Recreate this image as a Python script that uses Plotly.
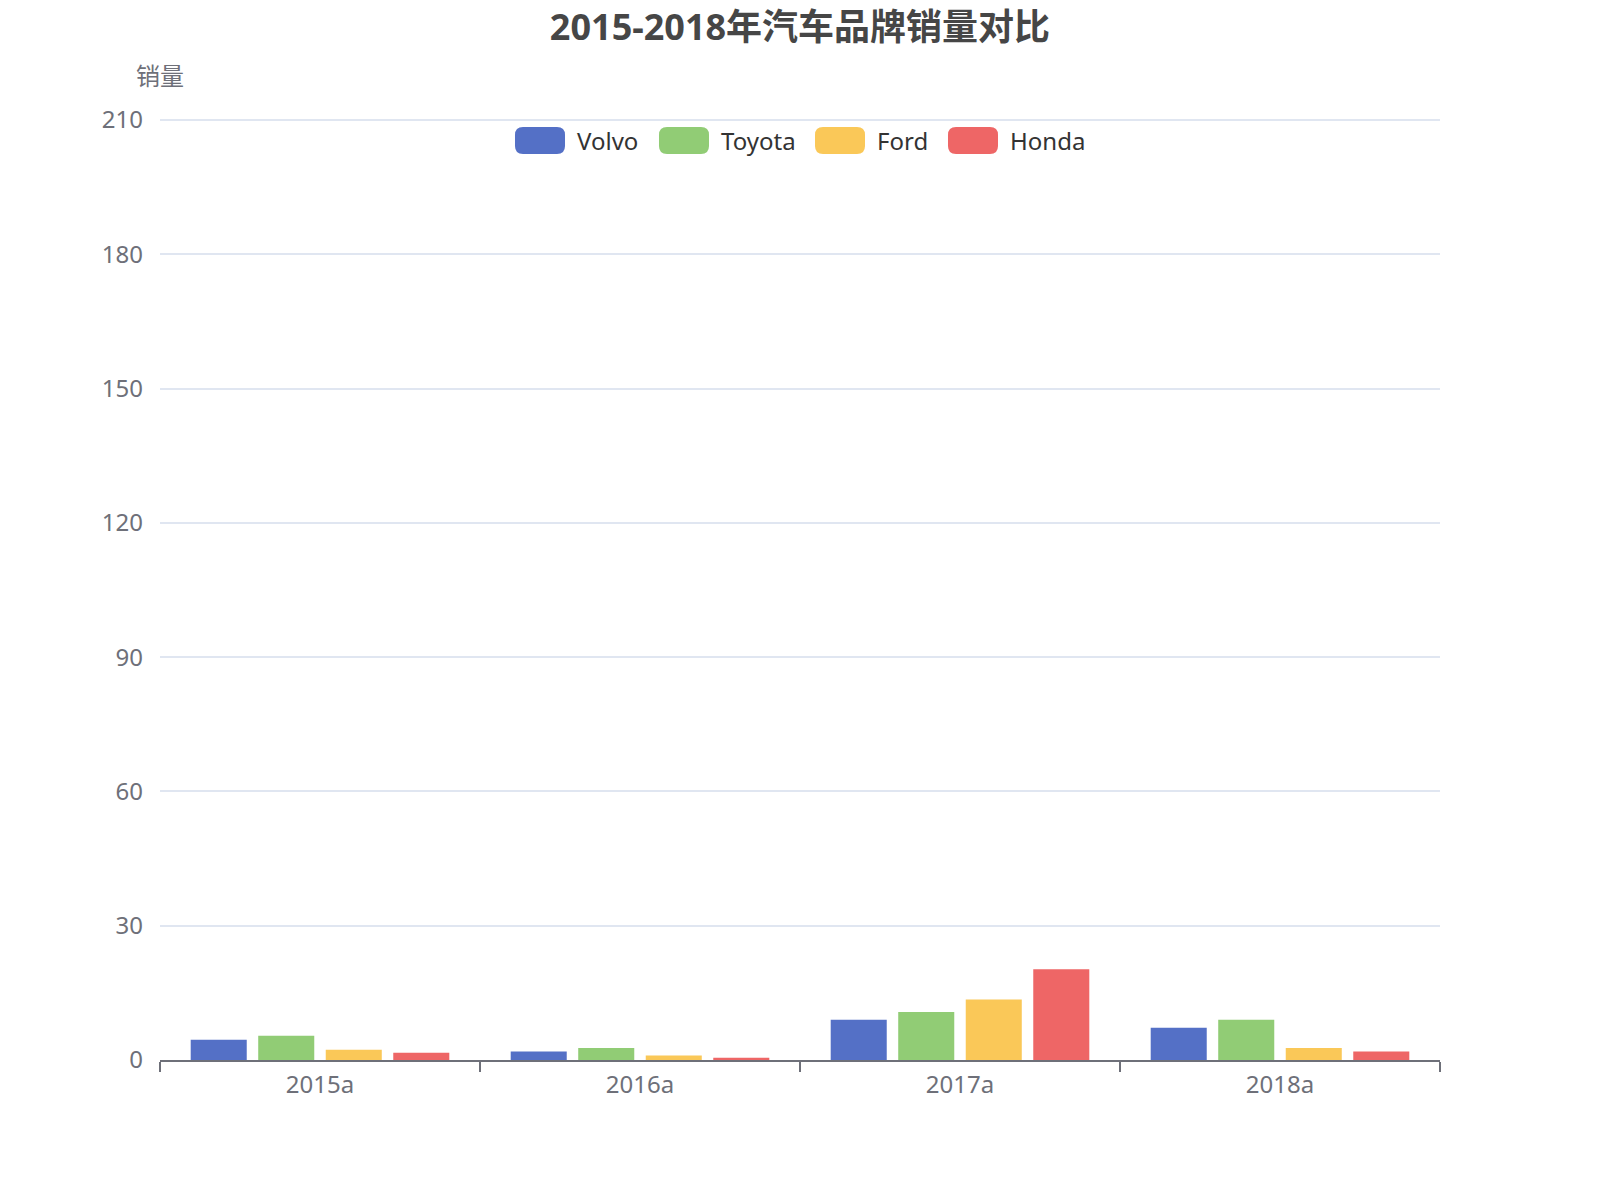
import plotly.graph_objects as go

# data
years = ["2015a", "2016a", "2017a", "2018a"]
brands = ["Volvo", "Toyota", "Ford", "Honda"]
volvo = [4.5, 1.9, 9.0, 7.2]
toyota = [5.4, 2.7, 10.7, 9.0]
ford = [2.3, 1.0, 13.5, 2.7]
honda = [1.6, 0.5, 20.3, 1.9]
y_ticks = [0, 30, 60, 90, 120, 150, 180, 210]
colors = ["#5470c6", "#91cc75", "#fac858", "#ee6666"]

W, H = 1600, 1200
# top margin leaves 4px of headroom so the 210 gridline is drawn
L, R, T, B = 160, 160, 116, 140
y_top = 210 + 4 * 210 / 940
font = "Noto Sans, Noto Sans CJK SC, sans-serif"

fig = go.Figure()
for name, vals, c in zip(brands, [volvo, toyota, ford, honda], colors):
    fig.add_trace(go.Bar(x=years, y=vals, name=name, marker=dict(color=c, line=dict(width=0))))

# helpers: pixel -> paper
def px(x):
    return (x - L) / (W - L - R)

def py(y):
    return (H - B - y) / (H - T - B)

# legend drawn by hand (echarts style rounded rects)
legend_x = [515, 659, 815, 948]
shapes = []
annotations = []
for name, c, x0 in zip(brands, colors, legend_x):
    x1 = x0 + 50
    y0, y1 = 127, 154
    r = 8
    pts = [("M", x0 + r, y0), ("L", x1 - r, y0), ("Q", x1, y0, x1, y0 + r), ("L", x1, y1 - r),
           ("Q", x1, y1, x1 - r, y1), ("L", x0 + r, y1), ("Q", x0, y1, x0, y1 - r),
           ("L", x0, y0 + r), ("Q", x0, y0, x0 + r, y0)]
    path = ""
    for p in pts:
        cmd, coords = p[0], p[1:]
        xy = [f"{px(coords[i]):.5f},{py(coords[i+1]):.5f}" for i in range(0, len(coords), 2)]
        path += cmd + " " + " ".join(xy) + " "
    shapes.append(dict(type="path", xref="paper", yref="paper", path=path + "Z",
                       fillcolor=c, line=dict(width=0)))
    annotations.append(dict(x=px(x1 + 10), y=py(140.5), xref="paper", yref="paper", text=name,
                            showarrow=False, xanchor="left", yanchor="middle",
                            font=dict(size=24, color="#333333", family=font)))

annotations.append(dict(x=0, y=py(76), xref="paper", yref="paper", text="销量", showarrow=False,
                        xanchor="center", yanchor="middle", font=dict(size=24, color="#6E7079", family=font)))

fig.update_layout(
    width=W, height=H,
    margin=dict(l=L, r=R, t=T, b=B, pad=0),
    paper_bgcolor="white", plot_bgcolor="white",
    title=dict(text="<b>2015-2018年汽车品牌销量对比</b>", x=0.5, xanchor="center", y=1 - 27 / H,
               yanchor="middle", font=dict(size=36, color="#464646", family=font)),
    showlegend=False,
    barmode="group", bargap=0.156, bargroupgap=0.17,
    shapes=shapes, annotations=annotations,
    font=dict(family=font),
)
fig.update_xaxes(showline=True, linecolor="#6E7079", linewidth=2, ticks="outside", tickson="boundaries",
                 ticklen=10, tickwidth=2, tickcolor="#6E7079", showgrid=False,
                 tickfont=dict(size=24, color="#6E7079"), ticklabelstandoff=2)
fig.update_yaxes(range=[0, y_top], tickvals=y_ticks, showgrid=True,
                 gridcolor="#E0E6F1", gridwidth=2,
                 zeroline=False, showline=False, tickfont=dict(size=24, color="#6E7079"),
                 ticklabelstandoff=16)

fig.write_html("out.html", config={"displayModeBar": False},
               post_script="document.body.style.margin='0';")
